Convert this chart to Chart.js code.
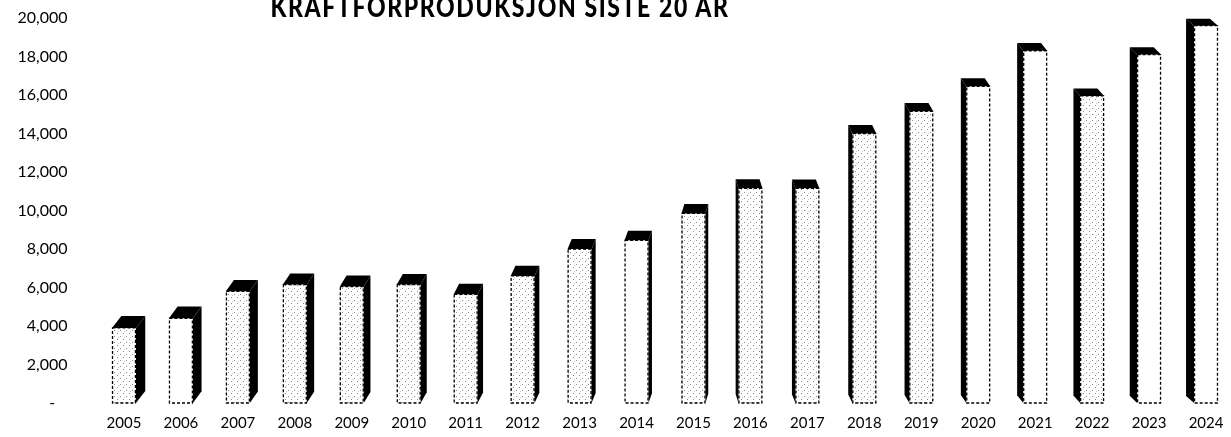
<!DOCTYPE html>
<html><head><meta charset="utf-8">
<script src="https://cdn.jsdelivr.net/npm/chart.js@4"></script>
<style>
html,body{margin:0;padding:0;background:#fff;overflow:hidden;width:1231px;height:437px;}
#wrap{position:relative;width:1240px;height:437px;}
#title{position:absolute;left:500px;top:-8px;transform:translateX(-50%) scaleX(0.82);font-family:Lato;font-weight:900;font-size:28px;letter-spacing:2px;white-space:nowrap;color:#000;line-height:28px;z-index:2;}
canvas{position:absolute;left:0;top:0;}
</style></head>
<body>
<div id="wrap">
<div id="title">KRAFTFORPRODUKSJON SISTE 20 ÅR</div>
<canvas id="c" width="1240" height="437"></canvas>
</div>
<script>
const years = ['2005','2006','2007','2008','2009','2010','2011','2012','2013','2014','2015','2016','2017','2018','2019','2020','2021','2022','2023','2024'];
const production = [3900, 4400, 5800, 6150, 6050, 6150, 5650, 6600, 8000, 8450, 9850, 11150, 11150, 14000, 15150, 16450, 18300, 15950, 18100, 19600];
const yTicks = [0, 2000, 4000, 6000, 8000, 10000, 12000, 14000, 16000, 18000, 20000];
// styling only: which front faces carry the dotted halftone
const dottedFace = [true,false,true,true,true,true,true,true,true,false,true,true,true,true,true,false,false,true,false,false];

function makePattern(){
  const pc=document.createElement('canvas'); pc.width=6; pc.height=6;
  const p=pc.getContext('2d');
  p.fillStyle='#fff'; p.fillRect(0,0,6,6);
  p.fillStyle='#8a8a8a'; p.fillRect(0,0,1,1); p.fillRect(3,3,1,1);
  p.fillStyle='#c8c8c8'; p.fillRect(4,1,1,1);
  return p.createPattern(pc,'repeat');
}
const ctx0=document.getElementById('c').getContext('2d');
const pat=makePattern();

const bar3d={
  id:'bar3d',
  afterDatasetsDraw(chart){
    const ctx=chart.ctx; const meta=chart.getDatasetMeta(0); const n=meta.data.length;
    meta.data.forEach((el,i)=>{
      const {x,y,base,width}=el.getProps(['x','y','base','width'],true);
      const l=x-width/2, r=x+width/2;
      const t=i-(n/2+0.5);
      const mag=2.5+0.65*Math.abs(t);
      const dx=t<0?mag:-mag;
      const dy=-(12-5*i/(n-1));
      ctx.save(); ctx.fillStyle='#000';
      ctx.beginPath(); ctx.moveTo(l,y); ctx.lineTo(l+dx,y+dy); ctx.lineTo(r+dx,y+dy); ctx.lineTo(r,y); ctx.closePath(); ctx.fill();
      const sx=dx>0?r:l;
      ctx.beginPath(); ctx.moveTo(sx,y); ctx.lineTo(sx+dx,y+dy); ctx.lineTo(sx+dx,base+dy); ctx.lineTo(sx,base); ctx.closePath(); ctx.fill();
      ctx.setLineDash([3,2]); ctx.lineWidth=1.3; ctx.strokeStyle='#000';
      ctx.strokeRect(l+0.5,y,width-1,base-y);
      ctx.restore();
    });
  }
};

new Chart(ctx0,{
  type:'bar',
  data:{labels:years,datasets:[{data:production,
    backgroundColor:dottedFace.map(d=>d?pat:'#ffffff'),
    borderWidth:0,categoryPercentage:1,barPercentage:0.42}]},
  options:{
    responsive:false,animation:false,devicePixelRatio:1,
    layout:{padding:{top:18,right:5.5,left:0,bottom:0}},
    plugins:{legend:{display:false},tooltip:{enabled:false},title:{display:false}},
    scales:{
      x:{grid:{display:false,drawTicks:false},border:{display:false},
        ticks:{color:'#000',font:{family:'Lato',size:15},padding:11,maxRotation:0,autoSkip:false},
        afterFit(s){s.height=34;s.paddingLeft=0;s.paddingRight=0;}},
      y:{min:0,max:20000,grid:{display:false,drawTicks:false},border:{display:false},
        afterBuildTicks(s){s.ticks=yTicks.map(v=>({value:v}));},
        ticks:{color:'#000',font:{family:'Lato',size:16},padding:28,
          callback:v=>v===0?'-   ':v.toLocaleString('en-US')},
        afterFit(s){s.width=95.5;s.paddingTop=0;s.paddingBottom=0;}}
    }
  },
  plugins:[bar3d]
});
</script>
</body></html>
